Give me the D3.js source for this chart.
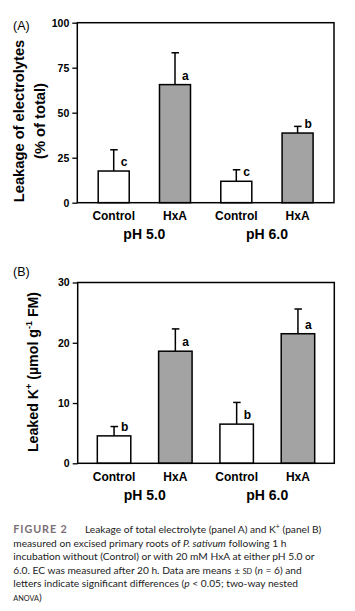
<!DOCTYPE html>
<html>
<head>
<meta charset="utf-8">
<script src="https://cdn.jsdelivr.net/npm/d3@7"></script>
<style>
  html, body { margin: 0; padding: 0; background: #fff; }
  svg { display: block; }
</style>
</head>
<body>
<svg id="chart" width="355" height="611"></svg>
<script>
// ---- data ----
const treatments = ["Control", "HxA", "Control", "HxA"];
const barIds = ["c5", "h5", "c6", "h6"];
const groups = ["pH 5.0", "pH 6.0"];
const fillColors = ["#ffffff", "#a3a3a3", "#ffffff", "#a3a3a3"];

const electrolyteMeans = [17.6, 65.6, 11.9, 38.7];
const electrolyteSD = [11.8, 17.7, 6.4, 3.7];
const electrolyteLetters = ["c", "a", "c", "b"];
const electrolyteTicks = [0, 25, 50, 75, 100];

const potassiumMeans = [4.55, 18.6, 6.5, 21.5];
const potassiumSD = [1.55, 3.7, 3.6, 4.1];
const potassiumLetters = ["b", "a", "b", "a"];
const potassiumTicks = [0, 10, 20, 30];

const svg = d3.select("#chart");
const AX = "'Liberation Sans', Arial, sans-serif";

function panel(opt) {
  const g = svg.append("g");
  const x = d3.scaleBand().domain(barIds).range([opt.left, opt.right])
    .paddingInner(opt.pin).paddingOuter(opt.pout);
  const y = d3.scaleLinear().domain(opt.domain).range([opt.bottom, opt.top]);

  // bars
  g.selectAll("rect.bar").data(opt.means).join("rect")
    .attr("x", (d, i) => x(barIds[i]))
    .attr("y", d => y(d))
    .attr("width", x.bandwidth())
    .attr("height", d => y(0) - y(d))
    .attr("fill", (d, i) => fillColors[i])
    .attr("stroke", "#000").attr("stroke-width", 1.5);

  // error bars (upper)
  opt.means.forEach((m, i) => {
    const cx = x(barIds[i]) + x.bandwidth() / 2;
    g.append("line").attr("x1", cx).attr("x2", cx)
      .attr("y1", y(m)).attr("y2", y(m + opt.sd[i]))
      .attr("stroke", "#000").attr("stroke-width", 1.5);
    g.append("line").attr("x1", cx - 3.5).attr("x2", cx + 4)
      .attr("y1", y(m + opt.sd[i])).attr("y2", y(m + opt.sd[i]))
      .attr("stroke", "#000").attr("stroke-width", 1.5);
    g.append("text").attr("x", cx + 7).attr("y", y(m) - 5)
      .attr("font-family", AX).attr("font-weight", "bold").attr("font-size", 12)
      .text(opt.letters[i]);
  });

  // box
  g.append("rect").attr("x", opt.left).attr("y", opt.top)
    .attr("width", opt.right - opt.left).attr("height", opt.bottom - opt.top)
    .attr("fill", "none").attr("stroke", "#000").attr("stroke-width", 1.5);

  // y axis
  const ax = g.append("g").attr("transform", `translate(${opt.left},0)`)
    .call(d3.axisLeft(y).tickValues(opt.ticks).tickSize(5).tickPadding(3));
  ax.select(".domain").remove();
  ax.selectAll("line").attr("stroke-width", 1.3);
  ax.selectAll("text").attr("font-family", AX).attr("font-weight", "bold")
    .attr("font-size", 10.5).attr("fill", "#000");

  // x labels
  barIds.forEach((id, i) => {
    g.append("text").attr("x", x(id) + x.bandwidth() / 2).attr("y", opt.bottom + 17.5)
      .attr("text-anchor", "middle").attr("font-family", AX).attr("font-weight", "bold")
      .attr("font-size", 12).text(treatments[i]);
  });
  groups.forEach((gr, k) => {
    const cx = (x(barIds[2 * k]) + x(barIds[2 * k + 1]) + x.bandwidth()) / 2;
    g.append("text").attr("x", cx).attr("y", opt.bottom + 36.5)
      .attr("text-anchor", "middle").attr("font-family", AX).attr("font-weight", "bold")
      .attr("font-size", 14).text(gr);
  });

  // panel label
  g.append("text").attr("x", 13).attr("y", opt.labelY)
    .attr("font-family", AX).attr("font-size", 12.5).text(opt.label);
  return {g, x, y};
}

// Panel A
const A = panel({left: 77.3, right: 334, top: 22.7, bottom: 202.7, domain: [0, 100],
  pin: 0.494, pout: 0.341, means: electrolyteMeans, sd: electrolyteSD,
  letters: electrolyteLetters, ticks: electrolyteTicks, label: "(A)", labelY: 29.5});
const tA = A.g.append("text").attr("transform", "translate(24,121) rotate(-90)")
  .attr("text-anchor", "middle").attr("font-family", AX).attr("font-weight", "bold")
  .attr("font-size", 14.7);
tA.append("tspan").attr("x", 0).attr("y", 0).text("Leakage of electrolytes");
tA.append("tspan").attr("x", 0).attr("y", 21).text("(% of total)");

// Panel B
const B = panel({left: 77.7, right: 334.3, top: 282.5, bottom: 463.3, domain: [0, 30],
  pin: 0.454, pout: 0.32, means: potassiumMeans, sd: potassiumSD,
  letters: potassiumLetters, ticks: potassiumTicks, label: "(B)", labelY: 276});
const tB = B.g.append("text").attr("transform", "translate(37.5,372) rotate(-90)")
  .attr("text-anchor", "middle").attr("font-family", AX).attr("font-weight", "bold")
  .attr("font-size", 14.2);
tB.append("tspan").text("Leaked K");
tB.append("tspan").attr("font-size", 9).attr("dy", -6).text("+");
tB.append("tspan").attr("dy", 6).text(" (\u00b5mol g");
tB.append("tspan").attr("font-size", 9).attr("dy", -6).text("-1");
tB.append("tspan").attr("dy", 6).text(" FM)");

// Caption
const CF = "Lato, 'Open Sans', sans-serif";
const cap = svg.append("g").attr("font-family", CF).attr("font-size", 10.2).attr("fill", "#222");
cap.append("text").attr("x", 13.3).attr("y", 533).attr("font-weight", "bold")
  .attr("letter-spacing", 0.9).attr("fill", "#7b6f76").attr("font-size", 10.8).text("FIGURE 2");
const l1 = cap.append("text").attr("x", 85).attr("y", 533);
l1.append("tspan").text("Leakage of total electrolyte (panel A) and K");
l1.append("tspan").attr("font-size", 7).attr("dy", -4).text("+");
l1.append("tspan").attr("dy", 4).text(" (panel B)");
const l2 = cap.append("text").attr("x", 13.3).attr("y", 546.5);
l2.append("tspan").text("measured on excised primary roots of ");
l2.append("tspan").attr("font-style", "italic").text("P. sativum");
l2.append("tspan").text(" following 1 h");
cap.append("text").attr("x", 13.3).attr("y", 560)
  .text("incubation without (Control) or with 20 mM HxA at either pH 5.0 or");
const l4 = cap.append("text").attr("x", 13.3).attr("y", 573.5);
l4.append("tspan").text("6.0. EC was measured after 20 h. Data are means \u00b1 ");
l4.append("tspan").attr("font-size", 7.3).text("SD");
l4.append("tspan").text(" (");
l4.append("tspan").attr("font-style", "italic").text("n");
l4.append("tspan").text(" = 6) and");
const l5 = cap.append("text").attr("x", 13.3).attr("y", 587);
l5.append("tspan").text("letters indicate significant differences (");
l5.append("tspan").attr("font-style", "italic").text("p");
l5.append("tspan").text(" < 0.05; two-way nested");
const l6 = cap.append("text").attr("x", 13.3).attr("y", 600.5);
l6.append("tspan").attr("font-size", 7.3).text("ANOVA");
l6.append("tspan").text(")");
</script>
</body>
</html>
